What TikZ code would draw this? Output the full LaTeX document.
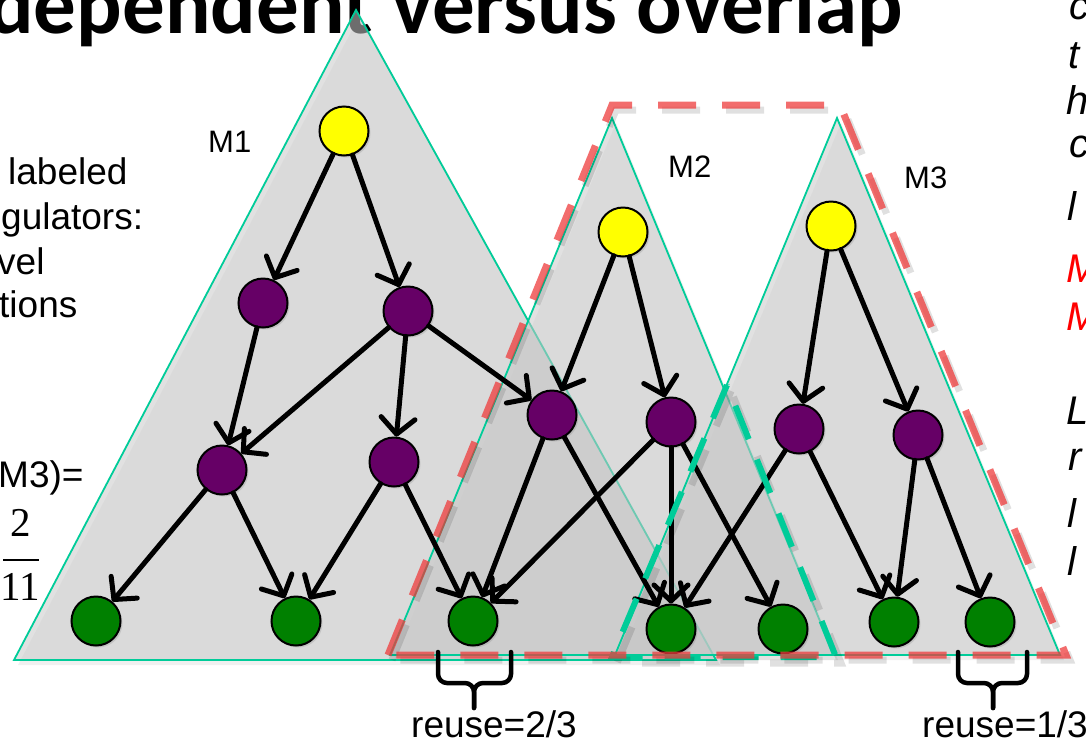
\documentclass[tikz,border=0pt]{standalone}
\usepackage{fontspec}
\setmainfont{Liberation Sans}
\newfontfamily\titlefont{Carlito}
\newfontfamily\seriffont{Liberation Serif}
\usetikzlibrary{arrows.meta,shadows}
\definecolor{tealline}{RGB}{0,204,153}
\definecolor{trifill}{RGB}{200,200,200}
\definecolor{nyellow}{RGB}{255,255,0}
\definecolor{npurple}{RGB}{102,0,102}
\definecolor{ngreen}{RGB}{0,128,0}
\definecolor{dashred}{RGB}{238,60,60}
\definecolor{textred}{RGB}{255,0,0}
\begin{document}
\begin{tikzpicture}[x=1pt,y=-1pt,
  tri/.style={fill=trifill,fill opacity=0.55,draw=tealline,draw opacity=1,line width=1.8pt,line join=miter},
  trishadow/.style={fill=black,fill opacity=0.06,draw=none},
  nodebase/.style={circle,draw=black,line width=2pt,minimum size=49pt,inner sep=0pt,
    drop shadow={opacity=0.25,shadow xshift=2pt,shadow yshift=-2pt}},
  ynode/.style={nodebase,fill=nyellow},
  pnode/.style={nodebase,fill=npurple},
  gnode/.style={nodebase,fill=ngreen},
  conn/.style={draw=black,line width=5pt,line cap=round,-{Straight Barb[length=16pt,width=34pt,round]}},
  reddash/.style={draw=dashred,draw opacity=0.75,line width=7pt,dash pattern=on 38pt off 26pt,line join=miter},
  greendash/.style={draw=tealline,line width=6pt,dash pattern=on 36pt off 22pt,line join=miter},
  dashshadow/.style={draw=black,draw opacity=0.12,line width=7pt,dash pattern=on 38pt off 26pt,line join=miter},
  mlabel/.style={font=\fontsize{31}{36}\selectfont,anchor=base west,inner sep=0pt},
  sidetext/.style={font=\fontsize{37}{44}\selectfont,anchor=base west,inner sep=0pt},
  rtext/.style={font=\itshape\fontsize{40}{44}\selectfont,anchor=base west,inner sep=0pt},
  bracepath/.style={draw=black,line width=4.5pt,rounded corners=9pt,line cap=round}
]
\useasboundingbox (0,0) rectangle (1086,750);
\clip (0,0) rectangle (1086,750);

% title (partly covered by the first triangle)
\node[anchor=base west,inner sep=0pt,font=\titlefont\bfseries\fontsize{85}{90}\selectfont] (title) at (-12,33) {dependent versus overlap};

% triangle shadows
\fill[trishadow] (18,665) -- (360,15) -- (720,665) -- cycle;
\fill[trishadow] (394,660) -- (616,123) -- (838,660) -- cycle;
\fill[trishadow] (619,660) -- (841,123) -- (1064,660) -- cycle;
% triangles
\path[tri] (14,660) -- (356,10) -- (716,660) -- cycle;
\path[tri] (390,655) -- (612,118) -- (834,655) -- cycle;
\path[tri] (615,655) -- (837,118) -- (1060,655) -- cycle;

% nodes
\node[ynode] (Y1) at (344,131) {};
\node[pnode] (P1) at (263,303) {};
\node[pnode] (P2) at (408,311) {};
\node[pnode] (P3) at (222,470) {};
\node[pnode] (P4) at (394,462) {};
\node[gnode] (G1) at (96,621) {};
\node[gnode] (G2) at (296,621) {};
\node[gnode] (G3) at (473,621) {};
\node[ynode] (Y2) at (623,232) {};
\node[pnode] (P5) at (552,415) {};
\node[pnode] (P6) at (671,422) {};
\node[gnode] (G4) at (671,629) {};
\node[gnode] (G5) at (783,629) {};
\node[ynode] (Y3) at (831,226) {};
\node[pnode] (P7) at (799,429) {};
\node[pnode] (P8) at (918,435) {};
\node[gnode] (G6) at (894,622) {};
\node[gnode] (G7) at (990,622) {};

% connectors
\draw[conn] (Y1) -- (P1);
\draw[conn] (Y1) -- (P2);
\draw[conn] (P1) -- (P3);
\draw[conn] (P2) -- (P3);
\draw[conn] (P2) -- (P4);
\draw[conn] (P2) -- (P5);
\draw[conn] (P3) -- (G1);
\draw[conn] (P3) -- (G2);
\draw[conn] (P4) -- (G2);
\draw[conn] (P4) -- (G3);
\draw[conn] (Y2) -- (P5);
\draw[conn] (Y2) -- (P6);
\draw[conn] (P5) -- (G3);
\draw[conn] (P5) -- (G4);
\draw[conn] (P6) -- (G3);
\draw[conn] (P6) -- (G4);
\draw[conn] (P6) -- (G5);
\draw[conn] (Y3) -- (P7);
\draw[conn] (Y3) -- (P8);
\draw[conn] (P7) -- (G4);
\draw[conn] (P7) -- (G6);
\draw[conn] (P8) -- (G6);
\draw[conn] (P8) -- (G7);

% dashed outlines with shadows
\draw[dashshadow] (731,391) -- (617,663) -- (841,663) -- cycle;
\draw[greendash] (727,385) -- (612,657) -- (836,657) -- cycle;
\draw[dashshadow] (392,660) -- (616,110) -- (844,110) -- (1070,660) -- cycle;
\draw[reddash] (388,655) -- (612,105) -- (840,105) -- (1066,655) -- cycle;

% module labels
\node[mlabel] (m1) at (208,152) {M1};
\node[mlabel] (m2) at (668,177) {M2};
\node[mlabel] (m3) at (904,188) {M3};

% left text (cut by the frame)
\node[sidetext] (l1) at (8,184) {labeled};
\node[sidetext] (l2) at (1,229) {gulators:};
\node[sidetext] (l3) at (-3,274) {vel};
\node[sidetext] (l4) at (-1,317) {tions};
\node[sidetext] (l5) at (-2,487) {M3)=};
\node[inner sep=0pt,font=\seriffont\fontsize{41}{44}\selectfont,anchor=base] (num) at (21,536) {2};
\node[inner sep=0pt,font=\seriffont\fontsize{41}{44}\selectfont,anchor=base] (den) at (20,600) {11};
\coordinate (barl) at (3,560);
\coordinate (barr) at (39,560);
\draw[line width=1.6pt] (barl) -- (barr);

% braces
\coordinate (b1l) at (438,652); \coordinate (b1r) at (511,652);
\coordinate (b1tip) at (474,708);
\draw[bracepath] (b1l) -- (438,683) -- (474,683) -- (b1tip);
\draw[bracepath] (b1r) -- (511,683) -- (474,683) -- (b1tip);
\coordinate (b2l) at (958,652); \coordinate (b2r) at (1027,652);
\coordinate (b2tip) at (993,708);
\draw[bracepath] (b2l) -- (958,683) -- (993,683) -- (b2tip);
\draw[bracepath] (b2r) -- (1027,683) -- (993,683) -- (b2tip);
\node[sidetext,anchor=base] (reuse1) at (494,737) {reuse=2/3};
\node[sidetext] (reuse2) at (922,737) {reuse=1/3};

% right text column (cut by the frame)
\node[rtext] (r1) at (1069,19) {c};
\node[rtext] (r2) at (1068,68) {t};
\node[rtext] (r3) at (1066,114) {h};
\node[rtext] (r4) at (1069,157) {c};
\node[rtext] (r5) at (1067,220) {l};
\node[rtext,text=textred] (r6) at (1066,282) {M};
\node[rtext,text=textred] (r7) at (1066,330) {M};
\node[rtext] (r8) at (1066,424) {L};
\node[rtext] (r9) at (1068,470) {r};
\node[rtext] (r10) at (1067,527) {l};
\node[rtext] (r11) at (1067,575) {l};
\end{tikzpicture}
\end{document}
